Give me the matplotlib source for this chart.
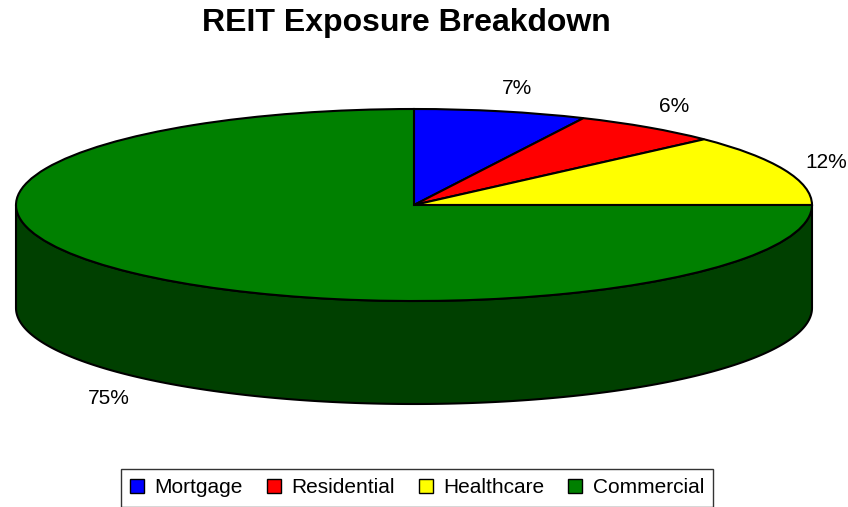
import numpy as np
import matplotlib
matplotlib.use("Agg")
import matplotlib.pyplot as plt
from matplotlib.patches import Wedge, Polygon, Patch
from matplotlib.transforms import Affine2D

plt.rcParams['font.family'] = ['Liberation Sans', 'DejaVu Sans']

# data
labels = ['Mortgage', 'Residential', 'Healthcare', 'Commercial']
values = [7, 6, 12, 75]
pct_text = ['7%', '6%', '12%', '75%']
colors = ['#0000FF', '#FF0000', '#FFFF00', '#008000']
side_color = '#004000'

# label positions (pixels)
label_pos = [(517, 89), (674, 106), (826, 162), (109, 398)]

W, H = 848, 507
fig = plt.figure(figsize=(W / 100, H / 100), dpi=100)
ax = fig.add_axes([0, 0, 1, 1])
ax.set_xlim(0, W)
ax.set_ylim(H, 0)
ax.axis('off')

cx, cy = 414, 205
rx, ry = 398, 96
depth = 103

ell = Affine2D().scale(rx, -ry).translate(cx, cy) + ax.transData

# side of the pie (front half only is visible, belongs to the big slice)
t = np.linspace(np.pi, 2 * np.pi, 200)
top_x = cx + rx * np.cos(t)
top_y = cy - ry * np.sin(t)
pts = np.column_stack([np.concatenate([top_x, top_x[::-1]]),
                       np.concatenate([top_y, top_y[::-1] + depth])])
ax.add_patch(Polygon(pts, closed=True, facecolor=side_color,
                     edgecolor='black', linewidth=1.5, joinstyle='round'))

# top surface, starting at 12 o'clock going clockwise
total = float(sum(values))
start = 90.0
for v, c in zip(values, colors):
    sweep = 360.0 * v / total
    w = Wedge((0, 0), 1, start - sweep, start, facecolor=c,
              edgecolor='black', linewidth=1.5, transform=ell)
    ax.add_patch(w)
    start -= sweep

for txt, (x, y) in zip(pct_text, label_pos):
    ax.text(x, y, txt, ha='center', va='center', fontsize=15)

ax.text(406, 23, 'REIT Exposure Breakdown', ha='center', va='center',
        fontsize=23, fontweight='bold')

handles = [Patch(facecolor=c, edgecolor='black', linewidth=1) for c in colors]
leg = fig.legend(handles, labels, loc='upper center', ncol=4,
                 bbox_to_anchor=(417 / W, 1 - 469 / H), frameon=True,
                 fancybox=False, edgecolor='black', fontsize=15,
                 handlelength=0.67, handleheight=0.67, handletextpad=0.5,
                 columnspacing=1.15, borderpad=0.45, borderaxespad=0)
leg.get_frame().set_linewidth(1)

fig.savefig('out.png', dpi=100)
